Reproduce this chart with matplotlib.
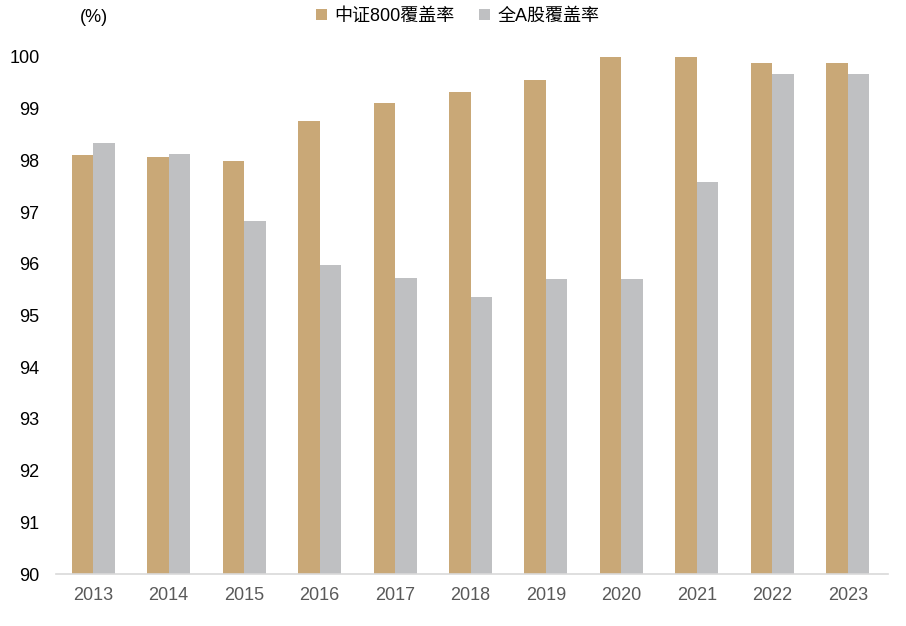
import matplotlib
matplotlib.use("Agg")
import matplotlib.pyplot as plt
import numpy as np

plt.rcParams['font.family'] = ['Liberation Sans', 'Noto Sans CJK SC', 'DejaVu Sans']

years = ['2013', '2014', '2015', '2016', '2017', '2018', '2019', '2020', '2021', '2022', '2023']
csi800 = [98.11, 98.07, 97.99, 98.77, 99.11, 99.32, 99.56, 100.0, 100.0, 99.88, 99.88]
all_a = [98.34, 98.12, 96.83, 95.98, 95.73, 95.36, 95.70, 95.71, 97.59, 99.68, 99.67]

tan = '#C9A877'
grey = '#BFC0C2'

fig = plt.figure(figsize=(9.06, 6.26), dpi=100)
ax = fig.add_axes([0.062, 0.083, 0.918, 0.826])

x = np.arange(len(years))
w = 0.285
ax.bar(x - w / 2, csi800, width=w, color=tan, label='中证800覆盖率', zorder=2)
ax.bar(x + w / 2, all_a, width=w, color=grey, label='全A股覆盖率', zorder=2)

ax.set_ylim(90, 100)
ax.set_yticks(range(90, 101))
ax.set_xlim(-0.49, 10.53)
ax.set_xticks(x)
ax.set_xticklabels(years, color='#595959')
ax.tick_params(axis='both', length=0, labelsize=13)
ax.tick_params(axis='x', pad=9)
ax.tick_params(axis='y', pad=12)

for s in ['top', 'right', 'left']:
    ax.spines[s].set_visible(False)
ax.spines['bottom'].set_color('#D9D9D9')
ax.spines['bottom'].set_linewidth(1.2)

fig.text(0.088, 0.972, '(%)', fontsize=13, ha='left', va='center')

fig.legend(loc='center', bbox_to_anchor=(0.505, 0.974), ncol=2, frameon=False,
           fontsize=13, handlelength=0.6, handleheight=0.6, handletextpad=0.4,
           columnspacing=1.4)

fig.savefig('out.png', dpi=100)
